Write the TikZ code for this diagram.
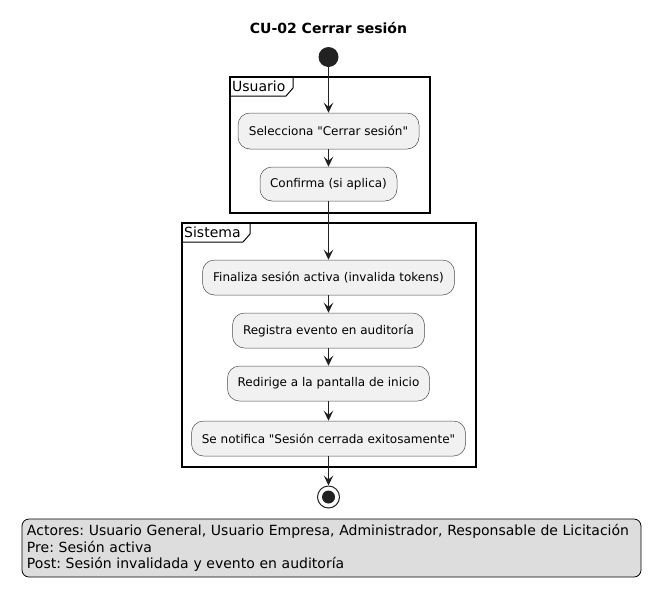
\documentclass[tikz,border=0pt]{standalone}
\usepackage{fontspec}
\setmainfont{DejaVu Sans}
\usetikzlibrary{arrows.meta}
\definecolor{boxfill}{HTML}{F1F1F1}
\definecolor{legfill}{HTML}{DDDDDD}
\definecolor{ink}{HTML}{222222}
\tikzset{
  act/.style={draw=black!70, line width=0.5pt, fill=boxfill, rounded corners=12pt,
    minimum height=35pt, inner sep=0pt, font=\fontsize{12}{14}\selectfont},
  arr/.style={draw=ink, line width=1pt, -{Stealth[length=10pt,width=9.5pt,inset=4pt]}},
  framebox/.style={draw=black, line width=1.5pt},
  tablabel/.style={anchor=west, inner sep=0pt, font=\fontsize{14}{16}\selectfont}
}
\begin{document}
\frenchspacing
\begin{tikzpicture}[x=1pt,y=-1pt]
\useasboundingbox (0,0) rectangle (658,603);
% title
\node[font=\bfseries\fontsize{14}{16}\selectfont] (title) at (328.5,28) {CU-02 Cerrar sesión};
% start
\node[circle, fill=ink, minimum size=20pt, inner sep=0pt] (start) at (328.5,57) {};
% Usuario frame
\draw[framebox] (230,77) rectangle (430,213);
\draw[line width=1pt] (230,96) -- (286,96) -- (293,88) -- (293,77);
\node[tablabel] (lu) at (232,86.5) {Usuario};
% Sistema frame
\draw[framebox] (182,223) rectangle (476,467);
\draw[line width=1pt] (182,242) -- (243,242) -- (250,234) -- (250,223);
\node[tablabel] (ls) at (184,232.5) {Sistema};
% activities
\node[act, minimum width=181pt, minimum height=36pt] (b1) at (328.5,131) {Selecciona \textquotedbl Cerrar sesión\textquotedbl};
\node[act, minimum width=137pt, minimum height=34pt] (b2) at (328.5,184) {Confirma (si aplica)};
\node[act, minimum width=252pt] (b3) at (328.5,277.5) {Finaliza sesión activa (invalida tokens)};
\node[act, minimum width=192pt] (b4) at (328.5,330.5) {Registra evento en auditoría};
\node[act, minimum width=202pt] (b5) at (328.5,383.5) {Redirige a la pantalla de inicio};
\node[act, minimum width=274pt] (b6) at (328.5,438.5) {Se notifica \textquotedbl Sesión cerrada exitosamente\textquotedbl};
% end
\node[circle, draw=ink, line width=1pt, minimum size=22pt, inner sep=0pt] (end) at (328.5,497) {};
\fill[ink] (end.center) circle (6.5pt);
% arrows
\draw[arr] (start) -- (b1);
\draw[arr] (b1) -- (b2);
\draw[arr] (b2) -- (b3);
\draw[arr] (b3) -- (b4);
\draw[arr] (b4) -- (b5);
\draw[arr] (b5) -- (b6);
\draw[arr] (b6) -- (end);
% legend
\node[draw=black, line width=0.8pt, fill=legfill, rounded corners=7pt, align=left,
  minimum width=619pt, minimum height=58pt, inner xsep=5pt, text width=609pt,
  font=\fontsize{14}{16.5}\selectfont] (leg) at (331.5,548)
  {Actores: Usuario General, Usuario Empresa, Administrador, Responsable de Licitación\\
   Pre: Sesión activa\\
   Post: Sesión invalidada y evento en auditoría};
\end{tikzpicture}
\end{document}
